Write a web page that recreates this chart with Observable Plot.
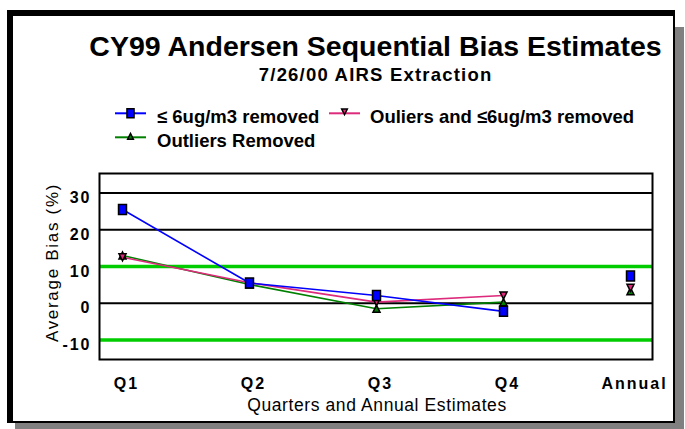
<!DOCTYPE html>
<html>
<head>
<meta charset="utf-8">
<script src="https://cdn.jsdelivr.net/npm/d3@7"></script>
<script src="https://cdn.jsdelivr.net/npm/@observablehq/plot@0.6"></script>
<style>
  html, body { margin: 0; padding: 0; background: #fff; }
  #wrap { position: relative; width: 685px; height: 429px; overflow: hidden; font-family: "Liberation Sans", Arial, sans-serif; }
  .abs { position: absolute; }
  #plot svg g[aria-label="x-axis tick label"] text { letter-spacing: 2px; }
  #plot svg g[aria-label="y-axis tick label"] text { letter-spacing: 2px; }
</style>
</head>
<body>
<div id="wrap">
  <div class="abs" style="left:15px;top:27px;width:669px;height:402px;background:#808080;"></div>
  <div class="abs" style="left:7px;top:10px;width:668px;height:413px;background:#000;"></div>
  <div class="abs" style="left:13px;top:16px;width:660px;height:405px;background:#fff;"></div>
  <div id="plot" class="abs" style="left:0;top:150px;"></div>
  <svg id="head" class="abs" style="left:0;top:0;overflow:visible" width="685" height="150"></svg>
</div>
<script>
// ---- data ----
const categories = ["Q1", "Q2", "Q3", "Q4", "Annual"];
const seriesNames = ["≤ 6ug/m3 removed", "Ouliers and ≤6ug/m3 removed", "Outliers Removed"];
const below6Removed = [25.5, 5.5, 2.1, -2.2, 7.4];
const outliersAndBelow6Removed = [12.5, 5.6, 0.3, 2.1, 4.2];
const outliersRemoved = [13.0, 5.1, -1.5, 0.3, 3.3];
const limitLines = [10, -10];
const gridValues = [30, 20, 0];
const yTicks = [30, 20, 10, 0, -10];
const titleText = "CY99 Andersen Sequential Bias Estimates";
const subtitleText = "7/26/00 AIRS Extraction";
const yLabel = "Average Bias (%)";
const xLabel = "Quarters and Annual Estimates";

const seriesColors = ["#0000ff", "#dd2a7b", "#008000"];
const seriesValues = [below6Removed, outliersAndBelow6Removed, outliersRemoved];

const rows = [];
seriesNames.forEach((s, i) => categories.forEach((c, j) => rows.push({series: s, category: c, value: seriesValues[i][j]})));
const lineRows = rows.filter(d => d.category !== "Annual");

// ---- symbols ----
const sqTall = {draw(ctx, size) { const a = Math.sqrt(size) / 2, b = a * 1.25; ctx.moveTo(-a, -b); ctx.lineTo(a, -b); ctx.lineTo(a, b); ctx.lineTo(-a, b); ctx.closePath(); }};
const triDown = {draw(ctx, size) { const a = Math.sqrt(size) / 2; ctx.moveTo(-a, -a); ctx.lineTo(a, -a); ctx.lineTo(0, a); ctx.closePath(); }};
const triUp = {draw(ctx, size) { const a = Math.sqrt(size) / 2; ctx.moveTo(-a, a); ctx.lineTo(a, a); ctx.lineTo(0, -a); ctx.closePath(); }};
const seriesSymbols = [sqTall, triDown, triUp];
const seriesR = [4.5, 4, 4];

const font = "Liberation Sans, Arial, sans-serif";
const drawOrder = [2, 1, 0];

const chart = Plot.plot({
  width: 685,
  height: 279,
  marginTop: 23,
  marginBottom: 70,
  marginLeft: 99,
  marginRight: 33,
  style: {background: "transparent", overflow: "visible", fontFamily: font, color: "#000"},
  x: {type: "point", domain: categories, padding: 0.17, label: null},
  y: {domain: [-15.3, 35.3], label: null},
  marks: [
    Plot.ruleY(gridValues, {stroke: "#000", strokeWidth: 2}),
    Plot.ruleY(limitLines, {stroke: "#00cc00", strokeWidth: 3.5}),
    Plot.frame({stroke: "#000", strokeWidth: 2}),
    Plot.axisY({ticks: yTicks, tickSize: 0, tickPadding: 8, dy: 5, fontSize: 16, fontWeight: "bold", fontFamily: font, tickFormat: d => String(d)}),
    Plot.axisX({tickSize: 0, tickPadding: 18, dx: 4, fontSize: 16, fontWeight: "bold", fontFamily: font}),
    Plot.text([yLabel], {frameAnchor: "left", textAnchor: "middle", rotate: -90, dx: -47, dy: -4, fontSize: 17, fontFamily: font, fill: "#000"}),
    Plot.text([xLabel], {frameAnchor: "bottom", dx: 1, dy: 51, fontSize: 17.5, fontFamily: font, fill: "#000"}),
    ...drawOrder.map(i => Plot.line(lineRows.filter(d => d.series === seriesNames[i]), {x: "category", y: "value", stroke: seriesColors[i], strokeWidth: 1.6})),
    ...drawOrder.map(i => Plot.dot(rows.filter(d => d.series === seriesNames[i]), {x: "category", y: "value", symbol: seriesSymbols[i], r: seriesR[i], fill: seriesColors[i], stroke: "#000", strokeWidth: 1.5}))
  ]
});
document.getElementById("plot").appendChild(chart);

// letter spacing for stretched labels
d3.select(chart).selectAll("g[aria-label='text'] text").style("letter-spacing", function() {
  const t = this.textContent;
  if (t === yLabel) return "1.7px";
  if (t === xLabel) return "0.6px";
  return null;
});

// ---- title, subtitle and legend ----
const head = d3.select("#head");
head.append("text").attr("x", 375.5).attr("y", 56).attr("text-anchor", "middle")
  .style("font", `bold 28.5px ${font}`).text(titleText);
head.append("text").attr("x", 375.6).attr("y", 80.7).attr("text-anchor", "middle")
  .style("font", `bold 18.5px ${font}`).style("letter-spacing", "1.2px").text(subtitleText);

const legendItems = [
  {i: 0, lx: 115, tx: 157, base: 123.3},
  {i: 1, lx: 329, tx: 370, base: 123.3},
  {i: 2, lx: 115, tx: 157, base: 147.3}
];
legendItems.forEach(({i, lx, tx, base}) => {
  const ly = base - 10;
  const g = head.append("g");
  g.append("line").attr("x1", lx).attr("x2", lx + 31).attr("y1", ly).attr("y2", ly)
    .attr("stroke", seriesColors[i]).attr("stroke-width", 2);
  const p = d3.path();
  const size = Math.PI * (i === 0 ? 4 : 3.2) ** 2;
  seriesSymbols[i].draw(p, size);
  const my = i === 1 ? ly - 1.5 : (i === 2 ? ly - 1 : ly);
  g.append("path").attr("d", p.toString()).attr("transform", `translate(${lx + 15.5},${my})`)
    .attr("fill", seriesColors[i]).attr("stroke", "#000").attr("stroke-width", 1.5);
  g.append("text").attr("x", tx).attr("y", base).style("font", `bold 18.5px ${font}`).text(seriesNames[i]);
});
</script>
</body>
</html>
